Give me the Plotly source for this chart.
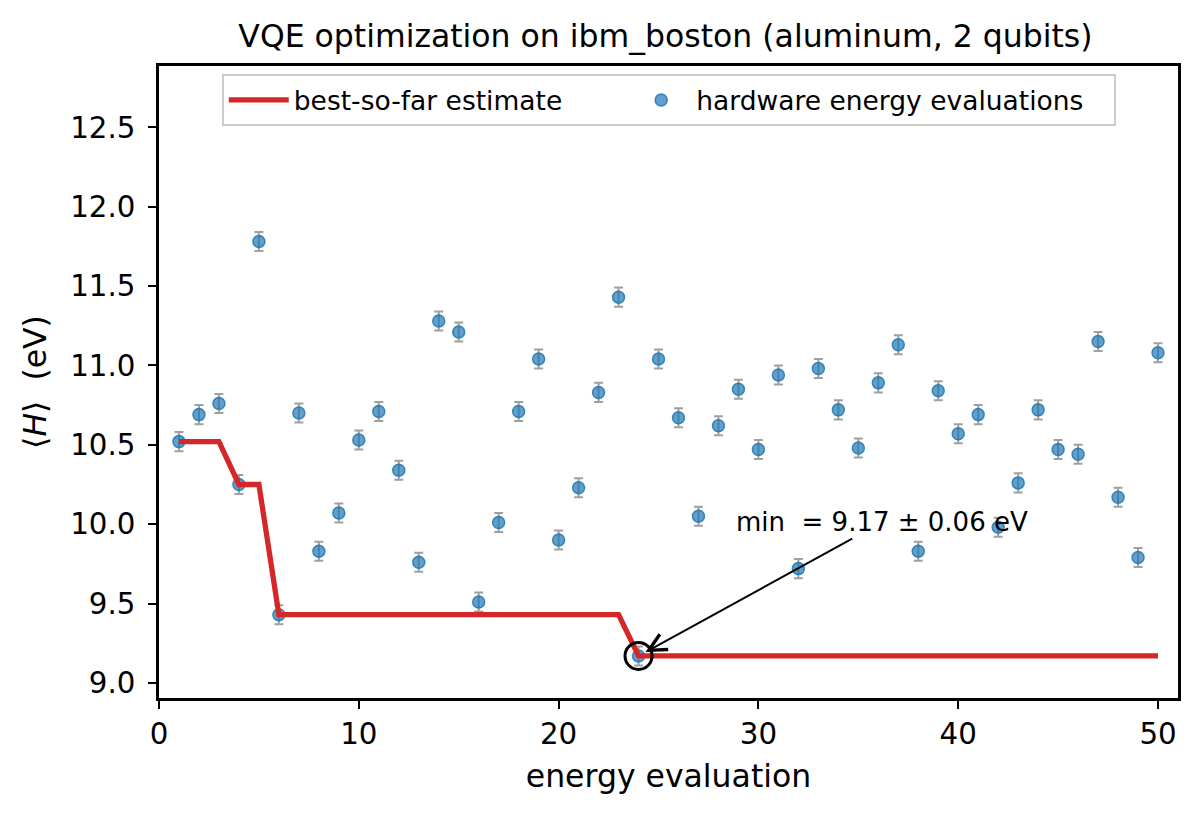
import numpy as np
import plotly.graph_objects as go

# VQE run on ibm_boston
evaluation = list(range(1, 51))
energy = [10.52, 10.69, 10.76, 10.25, 11.78, 9.43, 10.70, 9.83, 10.07, 10.53,
          10.71, 10.34, 9.76, 11.28, 11.21, 9.51, 10.01, 10.71, 11.04, 9.90,
          10.23, 10.83, 11.43, 9.17, 11.04, 10.67, 10.05, 10.62, 10.85, 10.47,
          10.94, 9.72, 10.98, 10.72, 10.48, 10.89, 11.13, 9.83, 10.84, 10.57,
          10.69, 9.98, 10.26, 10.72, 10.47, 10.44, 11.15, 10.17, 9.79, 11.08]
energy_err = [0.06] * 50

best_so_far = np.minimum.accumulate(np.array(energy))
i_min = int(np.argmin(energy))
x_min, e_min, err_min = evaluation[i_min], energy[i_min], energy_err[i_min]

FONT = "DejaVu Sans"
RED = "#d62728"
NB = "\u00a0"

fig = go.Figure()

# trailing nbsp widens the legend box like the original frame
fig.add_trace(go.Scatter(
    x=evaluation, y=energy, mode="markers", name="hardware energy evaluations" + NB * 3,
    legendrank=2,
    marker=dict(size=12, color="rgba(31,119,180,0.7)",
                line=dict(color="rgba(31,119,180,0.85)", width=1.5)),
    error_y=dict(type="data", array=energy_err, visible=True,
                 color="#a0a0a0", thickness=2, width=4.5)))

# pad the first label so the two legend entries sit as far apart as in the original
fig.add_trace(go.Scatter(
    x=evaluation, y=best_so_far, mode="lines", name="best-so-far estimate" + NB * 7,
    legendrank=1, line=dict(color=RED, width=5.3)))

fig.add_trace(go.Scatter(
    x=[x_min], y=[e_min], mode="markers", showlegend=False,
    marker=dict(symbol="circle-open", size=27, color="black", line=dict(width=3))))

fig.add_annotation(
    x=x_min, y=e_min, xref="x", yref="y",
    ax=36.2, ay=10.013, axref="x", ayref="y",
    text=f"min{NB}{NB}= {e_min:.2f} ± {err_min:.2f} eV",
    font=dict(family=FONT, size=26, color="black"),
    showarrow=True, arrowhead=5, arrowsize=1.7, arrowwidth=2,
    arrowcolor="black", standoff=8)

# page body adds 8px, so the figure is 8px smaller than the window
fig.update_layout(
    width=1192, height=809,
    margin=dict(l=151, r=22, t=58, b=119),
    paper_bgcolor="white", plot_bgcolor="white",
    font=dict(family=FONT, size=29, color="black"),
    title=dict(text="VQE optimization on ibm_boston (aluminum, 2 qubits)",
               xref="paper", x=0.497, xanchor="center", y=1 - 28 / 809, yanchor="middle",
               font=dict(family=FONT, size=31.5)),
    legend=dict(orientation="h", x=0.0616, xanchor="left", y=0.987, yanchor="top",
                bgcolor="rgba(255,255,255,0.8)", bordercolor="#cccccc", borderwidth=2,
                font=dict(family=FONT, size=26.5), itemwidth=60),
    showlegend=True)

fig.update_xaxes(
    range=[0, 51], tickvals=[0, 10, 20, 30, 40, 50],
    showline=True, linecolor="black", linewidth=2.5, mirror=True,
    ticks="outside", ticklen=8, tickwidth=2, tickcolor="black",
    showgrid=False, zeroline=False,
    tickfont=dict(family=FONT, size=29.3),
    title=dict(text="energy evaluation", font=dict(family=FONT, size=31.5), standoff=16))

fig.update_yaxes(
    range=[8.905, 12.886], tickvals=[9.0, 9.5, 10.0, 10.5, 11.0, 11.5, 12.0, 12.5],
    tickformat=".1f", ticklabelstandoff=7,
    showline=True, linecolor="black", linewidth=2.5, mirror=True,
    ticks="outside", ticklen=8, tickwidth=2, tickcolor="black",
    showgrid=False, zeroline=False,
    tickfont=dict(family=FONT, size=29.3),
    title=dict(text=f"⟨<i>H</i>⟩{NB}{NB}(eV)", font=dict(family=FONT, size=31.5), standoff=15))

fig.write_html("out.html")
